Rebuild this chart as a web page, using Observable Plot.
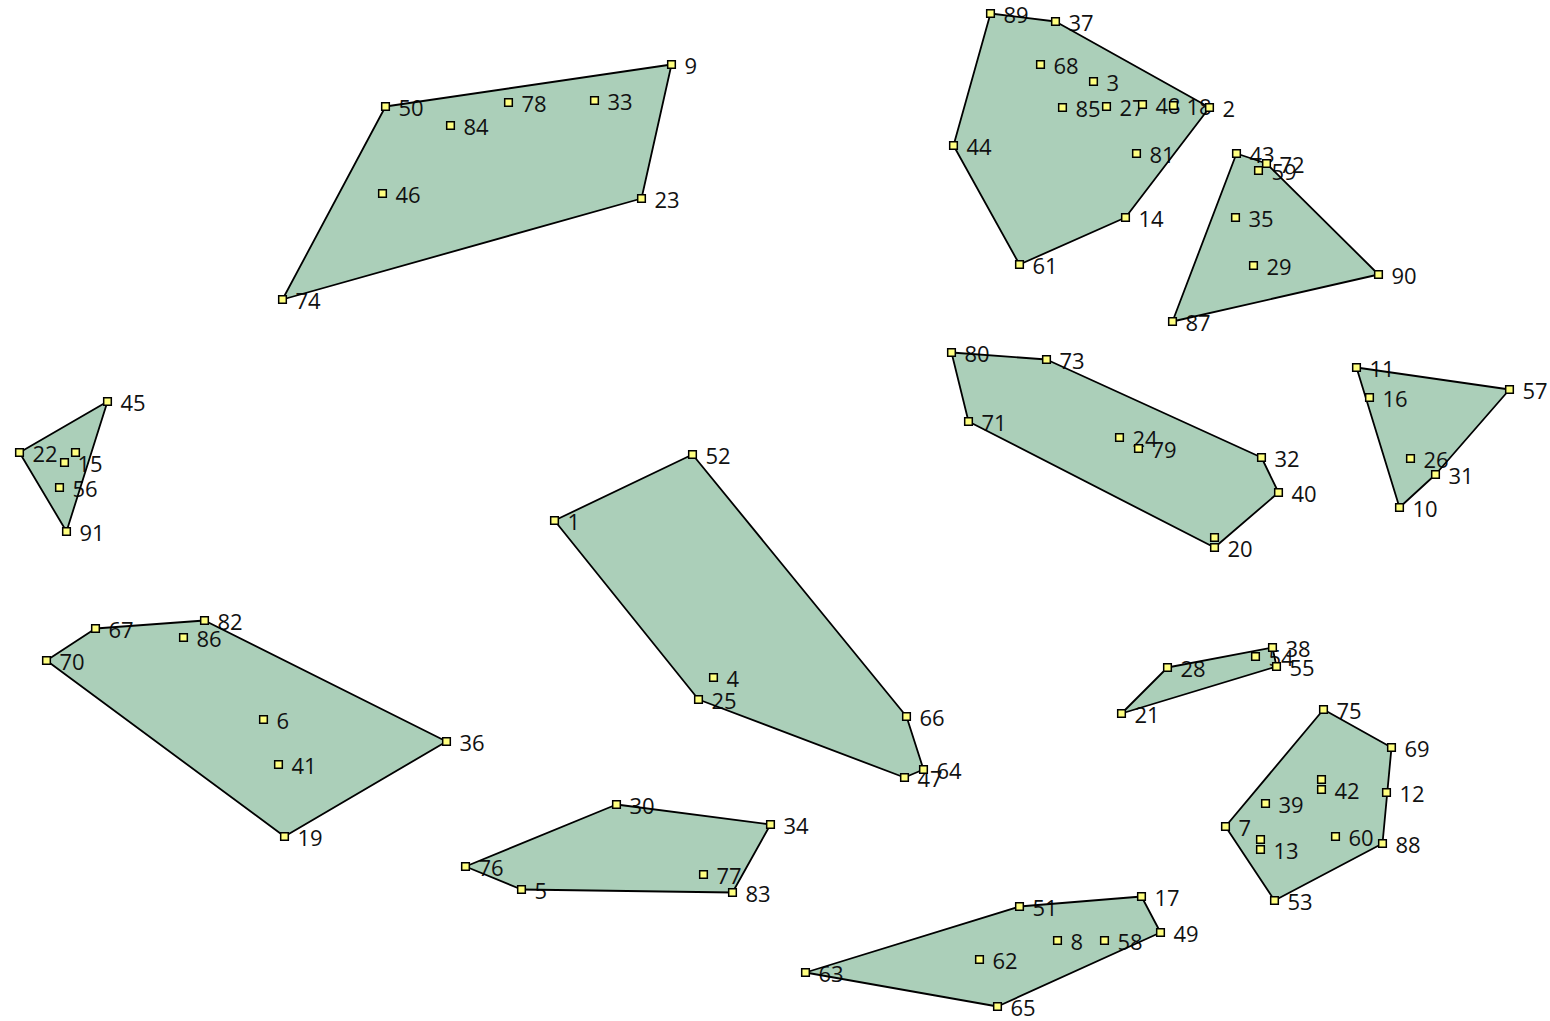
<!DOCTYPE html>
<html>
<head>
<meta charset="utf-8">
<script src="https://cdn.jsdelivr.net/npm/d3@7"></script>
<script src="https://cdn.jsdelivr.net/npm/@observablehq/plot@0.6"></script>
<style>
  html, body { margin: 0; padding: 0; background: #fff; overflow: hidden; }
  #chart svg { display: block; }
</style>
</head>
<body>
<div id="chart"></div>
<script>
// Point labels ("" = label hidden in the reference), positions and cluster ids
const labels = [
  "50","84","78","33","9","46","23","74",
  "89","37","68","3","85","27","48","18","2","44","81","14","61",
  "43","72","59","35","29","90","87",
  "11","16","57","26","31","10",
  "80","73","71","24","79","32","40","","20",
  "45","22","","15","56","91",
  "67","82","86","70","6","41","36","19",
  "52","1","4","25","66","64","47",
  "30","34","76","5","77","83",
  "38","54","28","55","21",
  "75","69","","42","12","39","7","","13","60","88","53",
  "51","17","49","8","58","62","63","65"
];
const xs = [
  385,450,508,594,671,382,641,282,
  990,1055,1040,1093,1062,1106,1142,1173,1209,953,1136,1125,1019,
  1236,1266,1258,1235,1253,1378,1172,
  1356,1369,1509,1410,1435,1399,
  951,1046,968,1119,1138,1261,1278,1214,1214,
  107,19,75,64,59,66,
  95,204,183,46,263,278,446,284,
  692,554,713,698,906,923,904,
  616,770,465,521,703,732,
  1272,1255,1167,1276,1121,
  1323,1391,1321,1321,1386,1265,1225,1260,1260,1335,1382,1274,
  1019,1141,1160,1057,1104,979,805,997
];
const ys = [
  106,125,102,100,64,193,198,299,
  13,21,64,81,107,106,104,105,107,145,153,217,264,
  153,163,170,217,265,274,321,
  367,397,389,458,474,507,
  352,359,421,437,448,457,492,537,547,
  401,452,452,462,487,531,
  628,620,637,660,719,764,741,836,
  454,520,677,699,716,769,777,
  804,824,866,889,874,892,
  647,656,667,666,713,
  709,747,779,789,792,803,826,839,849,836,843,900,
  906,896,932,940,940,959,972,1006
];
const clusterSizes = [8, 13, 7, 6, 9, 6, 8, 7, 6, 5, 12, 8];
const clusterNames = ["A","B","C","D","E","F","G","H","I","J","K","L"];

const cluster = clusterSizes.flatMap((n, i) => Array(n).fill(clusterNames[i]));
const points = labels.map((label, i) => ({label, x: xs[i], y: ys[i], cluster: cluster[i]}));

const W = 1550, H = 1021;
const hullFill = "#abcfb9";

const chart = Plot.plot({
  width: W,
  height: H,
  margin: 0,
  x: {domain: [0, W], range: [0, W], axis: null},
  y: {domain: [0, H], range: [0, H], axis: null},
  style: {background: "#ffffff"},
  marks: [
    Plot.hull(points, {x: "x", y: "y", z: "cluster", fill: hullFill, stroke: "none"}),
    Plot.text(points.filter(d => d.label !== ""), {
      x: "x", y: "y", text: "label", textAnchor: "start",
      dx: 13, dy: 2, fontSize: 22, fontFamily: "Open Sans", fill: "#111"
    }),
    Plot.hull(points, {x: "x", y: "y", z: "cluster", fill: "none", stroke: "#000", strokeWidth: 1.8}),
    Plot.dot(points, {x: "x", y: "y", symbol: "square", r: 4.3, fill: "#ffff80", stroke: "#000", strokeWidth: 1.5})
  ]
});
document.getElementById("chart").append(chart);
</script>
</body>
</html>
